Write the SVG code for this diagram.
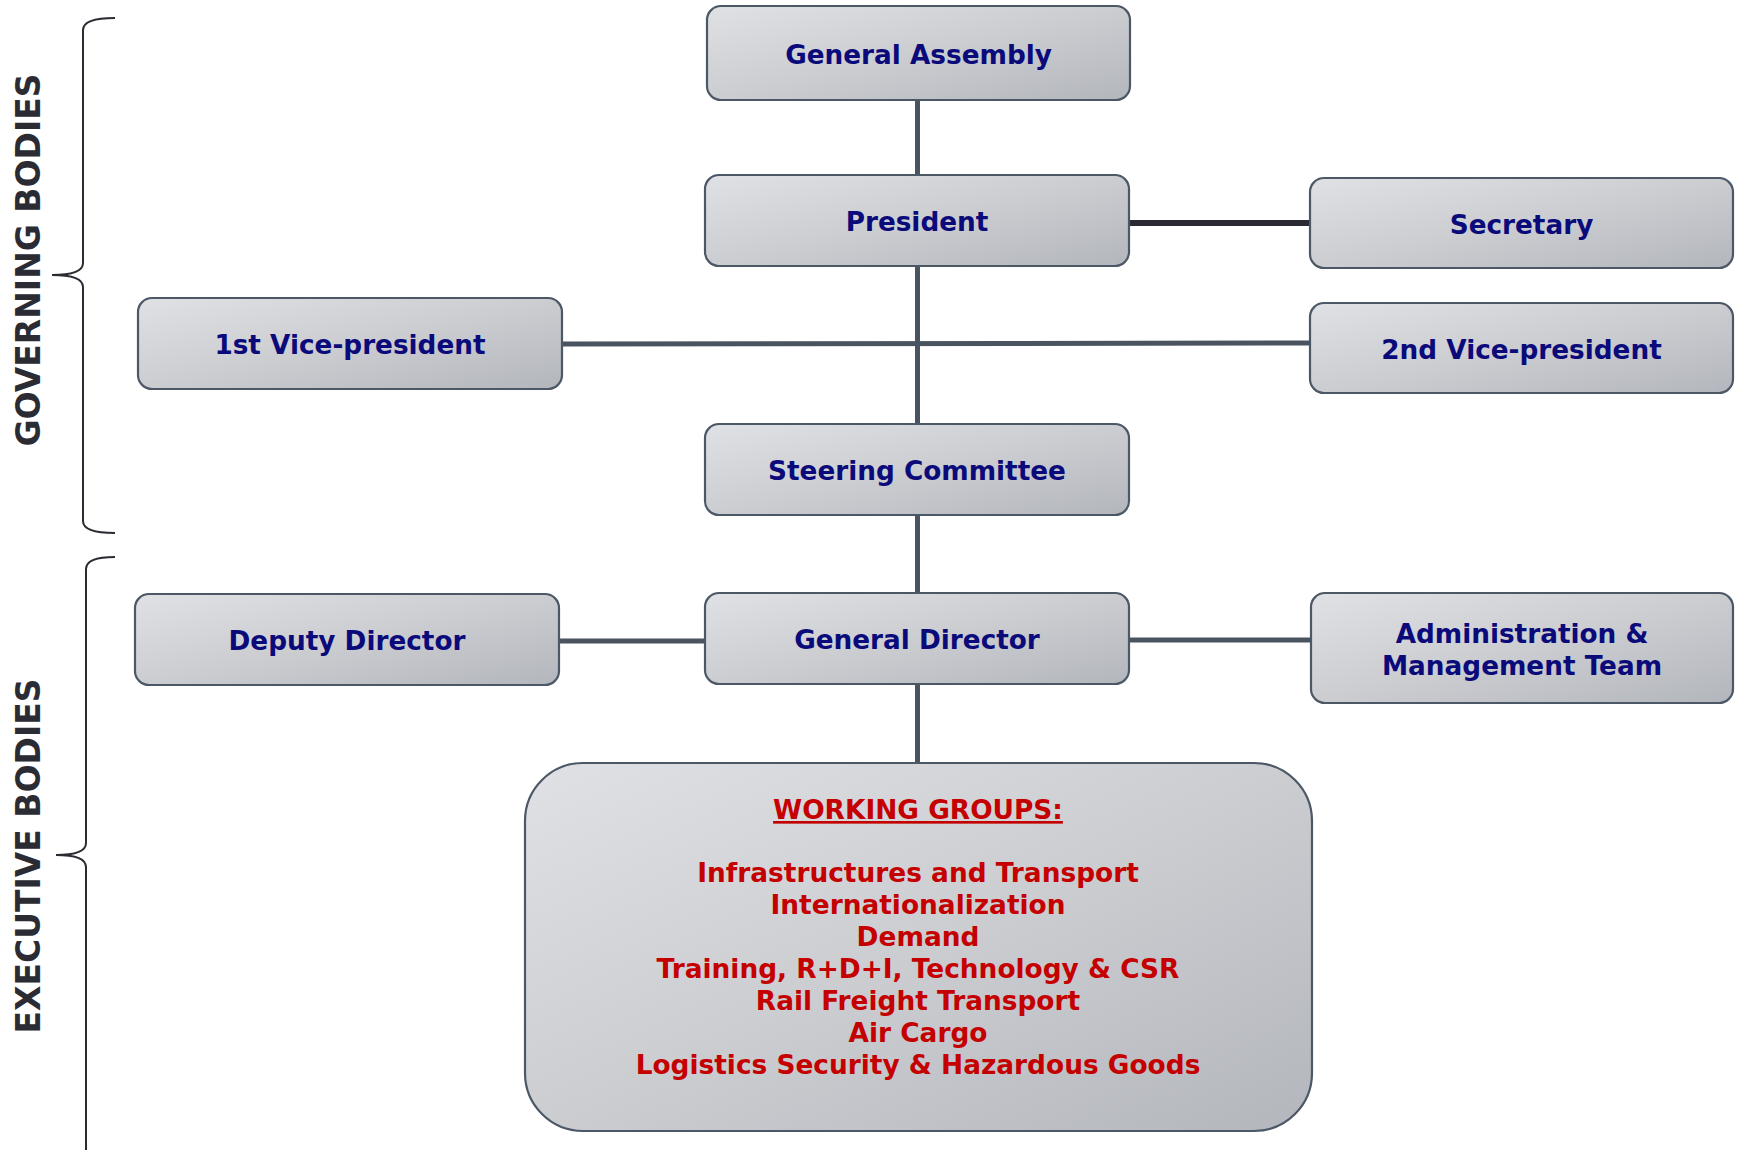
<svg xmlns="http://www.w3.org/2000/svg" width="1748" height="1150" viewBox="0 0 1748 1150">
<style>
.box{fill:url(#g);stroke:#4d5866;stroke-width:2.2}
.t{font-family:"DejaVu Sans",Verdana,sans-serif;font-weight:bold;font-size:26.3px;fill:#0a0a7a;text-anchor:middle}
.r{font-family:"DejaVu Sans",Verdana,sans-serif;font-weight:bold;font-size:26.4px;fill:#c40000;text-anchor:middle}
.side{font-family:"DejaVu Sans",Verdana,sans-serif;font-weight:bold;font-size:33px;fill:#2b2b33;text-anchor:middle}
.c{stroke:#4a5461;stroke-width:5;fill:none}
.brace{stroke:#2b2b33;stroke-width:2;fill:none}
</style>
<defs>
<linearGradient id="g" x1="0" y1="0" x2="1" y2="1">
<stop offset="0" stop-color="#e0e1e5"/>
<stop offset="0.5" stop-color="#cbcdd1"/>
<stop offset="1" stop-color="#b3b6bc"/>
</linearGradient>
</defs>
<g id="labels">
<path class="brace" d="M115,18 Q83,18 83,30 L83,263 Q83,275 52,275 Q83,275 83,287 L83,521 Q83,533 115,533"/>
<text class="side" transform="translate(40,260) rotate(-90)">GOVERNING BODIES</text>
<path class="brace" d="M115,557 Q86,557 86,569 L86,843 Q86,855 56,855 Q86,855 86,867 L86,1152"/>
<text class="side" transform="translate(40,856) rotate(-90)">EXECUTIVE BODIES</text>
</g>
<g id="connectors">
<line class="c" x1="917.5" y1="100" x2="917.5" y2="175"/>
<line class="c" x1="917.5" y1="266" x2="917.5" y2="424"/>
<line class="c" x1="917.5" y1="515" x2="917.5" y2="593"/>
<line class="c" x1="917.5" y1="684" x2="917.5" y2="763"/>
<line class="c" x1="562" y1="344" x2="1310" y2="343"/>
<line x1="1129" y1="223" x2="1310" y2="223" stroke="#2a2a33" stroke-width="6"/>
<line class="c" x1="559" y1="641" x2="705" y2="641"/>
<line class="c" x1="1129" y1="640" x2="1311" y2="640"/>
</g>
<g id="general-assembly">
<rect class="box" x="707" y="6" width="423" height="94" rx="14"/>
<text class="t" x="918.5" y="64">General Assembly</text>
</g>
<g id="president">
<rect class="box" x="705" y="175" width="424" height="91" rx="14"/>
<text class="t" x="917" y="231">President</text>
</g>
<g id="secretary">
<rect class="box" x="1310" y="178" width="423" height="90" rx="14"/>
<text class="t" x="1521.5" y="234">Secretary</text>
</g>
<g id="first-vp">
<rect class="box" x="138" y="298" width="424" height="91" rx="14"/>
<text class="t" x="350" y="354">1st Vice-president</text>
</g>
<g id="second-vp">
<rect class="box" x="1310" y="303" width="423" height="90" rx="14"/>
<text class="t" x="1521.5" y="359">2nd Vice-president</text>
</g>
<g id="steering-committee">
<rect class="box" x="705" y="424" width="424" height="91" rx="14"/>
<text class="t" x="917" y="480">Steering Committee</text>
</g>
<g id="deputy-director">
<rect class="box" x="135" y="594" width="424" height="91" rx="14"/>
<text class="t" x="347" y="650">Deputy Director</text>
</g>
<g id="general-director">
<rect class="box" x="705" y="593" width="424" height="91" rx="14"/>
<text class="t" x="917" y="649">General Director</text>
</g>
<g id="admin-team">
<rect class="box" x="1311" y="593" width="422" height="110" rx="14"/>
<text class="t" x="1522" y="643">Administration &amp;</text>
<text class="t" x="1522" y="675">Management Team</text>
</g>
<g id="working-groups">
<rect class="box" x="525" y="763" width="787" height="368" rx="58"/>
<text class="r" x="918" y="819" text-decoration="underline">WORKING GROUPS:</text>
<text class="r" x="918" y="882">Infrastructures and Transport</text>
<text class="r" x="918" y="914">Internationalization</text>
<text class="r" x="918" y="946">Demand</text>
<text class="r" x="918" y="978">Training, R+D+I, Technology &amp; CSR</text>
<text class="r" x="918" y="1010">Rail Freight Transport</text>
<text class="r" x="918" y="1042">Air Cargo</text>
<text class="r" x="918" y="1074">Logistics Security &amp; Hazardous Goods</text>
</g>
</svg>
